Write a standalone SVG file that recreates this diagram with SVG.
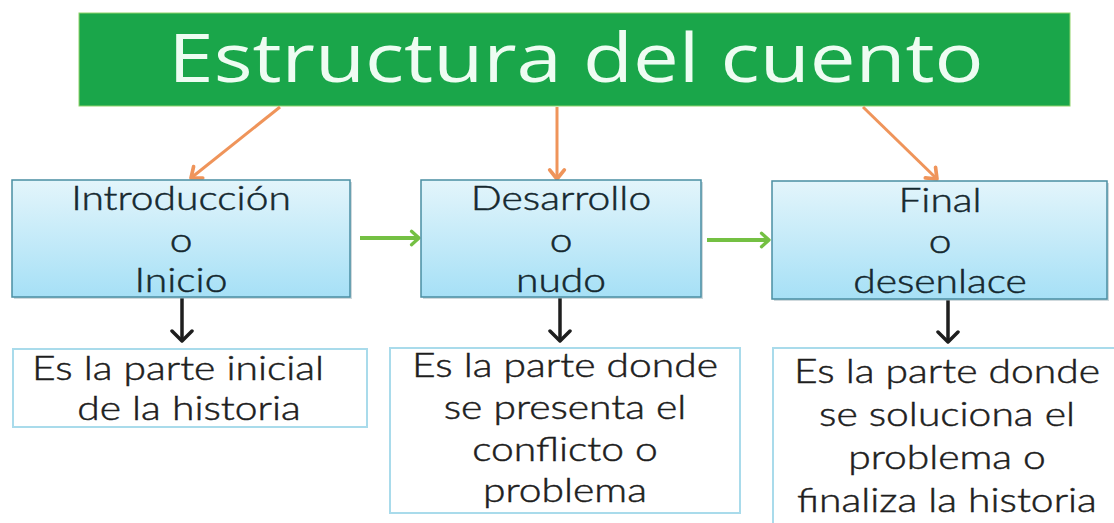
<svg xmlns="http://www.w3.org/2000/svg" width="1114" height="523" viewBox="0 0 1114 523">
  <defs>
    <linearGradient id="blueGrad" x1="0" y1="0" x2="0" y2="1">
      <stop offset="0" stop-color="#e3f5fb"/>
      <stop offset="1" stop-color="#a6e0f6"/>
    </linearGradient>
    <marker id="mOrange" viewBox="0 0 24 24" refX="14" refY="12" markerWidth="22" markerHeight="22" orient="auto" markerUnits="userSpaceOnUse">
      <path d="M4,4 L14,12 L4,20" fill="none" stroke="#ef945a" stroke-width="4" stroke-linecap="round" stroke-linejoin="round"/>
    </marker>
    <marker id="mGreen" viewBox="0 0 24 24" refX="13" refY="12" markerWidth="20" markerHeight="20" orient="auto" markerUnits="userSpaceOnUse">
      <path d="M4,4 L13,12 L4,20" fill="none" stroke="#74c043" stroke-width="4" stroke-linecap="round" stroke-linejoin="round"/>
    </marker>
    <marker id="mBlack" viewBox="0 0 24 24" refX="13" refY="12" markerWidth="24" markerHeight="24" orient="auto" markerUnits="userSpaceOnUse">
      <path d="M3,2 L13,12 L3,22" fill="none" stroke="#1e1e1e" stroke-width="3.5" stroke-linecap="round" stroke-linejoin="round"/>
    </marker>
  </defs>
  <style>
    .title { font-family: "Open Sans", "Liberation Sans", sans-serif; font-size: 68px; fill: #eefcf2; text-anchor: middle; }
    .blue { fill: url(#blueGrad); stroke: #4a8ea3; stroke-width: 1.5; }
    .shadow { fill: #9fb4bc; opacity: 0.5; }
    .white { fill: #ffffff; stroke: #a9dbeb; stroke-width: 2; }
    .t { font-family: Lato, "Open Sans", sans-serif; font-size: 34px; font-weight: 300; text-anchor: middle; stroke-width: 0.5; }
    .tb { fill: #15282f; stroke: #15282f; }
    .tw { fill: #1e1e1e; stroke: #1e1e1e; }
    .orange { stroke: #ef945a; stroke-width: 3; fill: none; marker-end: url(#mOrange); }
    .green { stroke: #74c043; stroke-width: 4; fill: none; marker-end: url(#mGreen); }
    .black { stroke: #1e1e1e; stroke-width: 3.5; fill: none; marker-end: url(#mBlack); }
  </style>
  <rect width="1114" height="523" fill="#ffffff"/>

  <g id="title">
    <rect x="79" y="13" width="991" height="93" fill="#1aa64a" stroke="#8fd36a" stroke-width="1"/>
    <text class="title" transform="translate(576,82) scale(1.2,1)">Estructura del cuento</text>
  </g>

  <g id="connectors">
    <line class="orange" x1="280" y1="107" x2="191" y2="178"/>
    <line class="orange" x1="557" y1="107" x2="557" y2="179"/>
    <line class="orange" x1="863" y1="107" x2="937" y2="179"/>
    <line class="green" x1="360" y1="238" x2="419" y2="238"/>
    <line class="green" x1="707" y1="240" x2="769" y2="240"/>
    <line class="black" x1="182" y1="298" x2="182" y2="341"/>
    <line class="black" x1="560" y1="298" x2="560" y2="341"/>
    <line class="black" x1="948" y1="300" x2="948" y2="342"/>
  </g>

  <g id="introduccion">
    <rect class="shadow" x="14" y="182" width="338" height="117"/>
    <rect class="blue" x="12" y="180" width="338" height="117"/>
    <text class="t tb" transform="translate(181,210) scale(1.2,1)">Introducción</text>
    <text class="t tb" transform="translate(181,252) scale(1.2,1)">o</text>
    <text class="t tb" transform="translate(181,292) scale(1.2,1)">Inicio</text>
  </g>

  <g id="desarrollo">
    <rect class="shadow" x="423" y="182" width="280" height="117"/>
    <rect class="blue" x="421" y="180" width="280" height="117"/>
    <text class="t tb" transform="translate(561,210) scale(1.2,1)">Desarrollo</text>
    <text class="t tb" transform="translate(561,252) scale(1.2,1)">o</text>
    <text class="t tb" transform="translate(561,292) scale(1.2,1)">nudo</text>
  </g>

  <g id="final">
    <rect class="shadow" x="774" y="183" width="335" height="118"/>
    <rect class="blue" x="772" y="181" width="335" height="118"/>
    <text class="t tb" transform="translate(940,212) scale(1.2,1)">Final</text>
    <text class="t tb" transform="translate(940,253) scale(1.2,1)">o</text>
    <text class="t tb" transform="translate(940,293) scale(1.2,1)">desenlace</text>
  </g>

  <g id="desc-inicio">
    <rect class="white" x="13" y="349" width="354" height="78"/>
    <text class="t tw" transform="translate(178,380) scale(1.2,1)">Es la parte inicial</text>
    <text class="t tw" transform="translate(189,420) scale(1.2,1)">de la historia</text>
  </g>

  <g id="desc-nudo">
    <rect class="white" x="390" y="348" width="350" height="165"/>
    <text class="t tw" transform="translate(565,377) scale(1.2,1)">Es la parte donde</text>
    <text class="t tw" transform="translate(565,419) scale(1.2,1)">se presenta el</text>
    <text class="t tw" transform="translate(565,461) scale(1.2,1)">conflicto o</text>
    <text class="t tw" transform="translate(565,502) scale(1.2,1)">problema</text>
  </g>

  <g id="desc-final">
    <rect class="white" x="773" y="348" width="350" height="185"/>
    <text class="t tw" transform="translate(947,383) scale(1.2,1)">Es la parte donde</text>
    <text class="t tw" transform="translate(947,426) scale(1.2,1)">se soluciona el</text>
    <text class="t tw" transform="translate(947,469) scale(1.2,1)">problema o</text>
    <text class="t tw" transform="translate(947,512) scale(1.2,1)">finaliza la historia</text>
  </g>
</svg>
